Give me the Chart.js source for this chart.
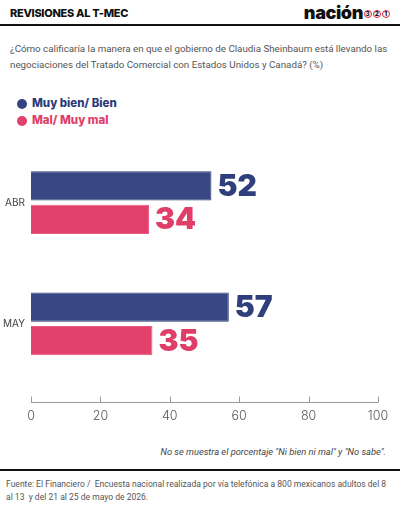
<!DOCTYPE html>
<html>
<head>
<meta charset="utf-8">
<script src="https://cdn.jsdelivr.net/npm/chart.js@4"></script>
<style>
  html, body { margin: 0; padding: 0; background: #fff; }
  body { width: 400px; height: 509px; position: relative; overflow: hidden; font-family: Roboto, "Noto Sans", sans-serif; }
  .head-title { position: absolute; left: 10px; top: 6px; font-family: Inter, sans-serif; font-size: 11px; font-weight: 800; color: #111; letter-spacing: -0.3px; }
  .logo { position: absolute; right: 10px; top: 2px; font-family: Inter, sans-serif; font-size: 18px; font-weight: 900; color: #111; letter-spacing: -0.4px; display: flex; align-items: center; }
  .logo .c { display: inline-block; width: 6.5px; height: 6.5px; border: 1.4px solid #d8203a; border-radius: 50%; font-size: 6.5px; line-height: 6.5px; text-align: center; color: #111; font-weight: 800; margin-left: 0.5px; letter-spacing: 0; margin-top: 3px; }
  .rule { position: absolute; left: 0; width: 400px; height: 2px; background: #111; }
  .question { position: absolute; left: 10px; top: 41px; white-space: nowrap; font-size: 10.4px; line-height: 16px; color: #555; }
  .legend { position: absolute; left: 17px; top: 95px; font-family: Inter, sans-serif; font-size: 11.5px; font-weight: 800; }
  .legend div { height: 17px; line-height: 15px; display: flex; align-items: center; }
  .legend span.dot { display: inline-block; width: 10px; height: 10px; border-radius: 50%; margin-right: 5px; }
  .note { position: absolute; right: 14px; top: 446px; white-space: nowrap; font-size: 9.6px; font-style: italic; color: #444; }
  .source { position: absolute; left: 6px; top: 478px; white-space: nowrap; font-size: 9px; line-height: 13px; color: #555; }
  #wrap { position: absolute; left: 0; top: 130px; width: 400px; height: 300px; }
</style>
</head>
<body>
<div class="head-title">REVISIONES AL T-MEC</div>
<div class="logo">nación<span class="c">3</span><span class="c">2</span><span class="c">1</span></div>
<div class="rule" style="top:24px"></div>
<div class="question" data-fit="377">¿Cómo calificaría la manera en que el gobierno de Claudia Sheinbaum está llevando las<br>negociaciones del Tratado Comercial con Estados Unidos y Canadá? (%)</div>
<div class="legend">
  <div style="color:#2c3b7a"><span class="dot" style="background:#34447f"></span>Muy bien/ Bien</div>
  <div style="color:#e03e68"><span class="dot" style="background:#e2416b"></span>Mal/ Muy mal</div>
</div>
<div id="wrap"><canvas id="chart"></canvas></div>
<div class="note" data-fit="226">No se muestra el porcentaje "Ni bien ni mal" y "No sabe".</div>
<div class="rule" style="top:469px"></div>
<div class="source" data-fit="380">Fuente: El Financiero /&nbsp; Encuesta nacional realizada por vía telefónica a 800 mexicanos adultos del 8<br>al 13&nbsp; y del 21 al 25 de mayo de 2026.</div>

<script>
const months = ['ABR', 'MAY'];
const goodValues = [52, 57];
const badValues = [34, 35];
const xTicks = [0, 20, 40, 60, 80, 100];

const blue = '#374885';
const pink = '#e2416b';

// shrink text blocks to the width they have in the original
document.querySelectorAll('[data-fit]').forEach(el => {
    const target = parseFloat(el.dataset.fit);
    const size = parseFloat(getComputedStyle(el).fontSize);
    el.style.fontSize = (size * target / el.scrollWidth).toFixed(2) + 'px';
});

// value labels next to each bar
const valueLabels = {
    id: 'valueLabels',
    afterDatasetsDraw(chart) {
        const ctx = chart.ctx;
        ctx.save();
        ctx.font = '900 30px Inter, "DejaVu Sans", sans-serif';
        ctx.textBaseline = 'middle';
        ctx.textAlign = 'left';
        chart.data.datasets.forEach((ds, i) => {
            chart.getDatasetMeta(i).data.forEach((bar, j) => {
                ctx.fillStyle = ds.labelColor;
                ctx.fillText(ds.data[j], bar.x + 6, bar.y + 1);
            });
        });
        ctx.restore();
    }
};

// baseline with upward ticks, sitting below the bars
const axisBaseline = {
    id: 'axisBaseline',
    afterDraw(chart) {
        const x = chart.scales.x;
        const ctx = chart.ctx;
        const yLine = Math.round(chart.chartArea.bottom + 17.5) + 0.5;
        ctx.save();
        ctx.strokeStyle = '#999';
        ctx.lineWidth = 1;
        ctx.beginPath();
        ctx.moveTo(x.left, yLine);
        ctx.lineTo(x.right, yLine);
        xTicks.forEach(v => {
            const px = Math.round(x.getPixelForValue(v)) + 0.5;
            ctx.moveTo(px, yLine);
            ctx.lineTo(px, yLine - 6);
        });
        ctx.stroke();
        ctx.restore();
    }
};

const ctx = document.getElementById('chart').getContext('2d');
new Chart(ctx, {
    type: 'bar',
    data: {
        labels: months,
        datasets: [{
            label: 'Muy bien/ Bien',
            data: goodValues,
            backgroundColor: blue,
            borderColor: '#2d3c78',
            borderWidth: 1,
            labelColor: '#2f3f7c',
            barPercentage: 0.88,
            categoryPercentage: 0.55
        }, {
            label: 'Mal/ Muy mal',
            data: badValues,
            backgroundColor: pink,
            borderColor: '#ea5a80',
            borderWidth: 1,
            labelColor: '#e03e68',
            barPercentage: 0.88,
            categoryPercentage: 0.55
        }]
    },
    options: {
        indexAxis: 'y',
        responsive: true,
        maintainAspectRatio: false,
        animation: false,
        layout: { padding: { top: 4.5, right: 22, left: 0, bottom: 0 } },
        plugins: {
            legend: { display: false },
            tooltip: { enabled: false }
        },
        scales: {
            x: {
                min: 0,
                max: 100,
                afterBuildTicks: scale => { scale.ticks = xTicks.map(v => ({ value: v })); },
                afterFit: scale => {
                    scale.height = 45.5;
                    scale.paddingLeft = 0;
                    scale.paddingRight = 0;
                },
                grid: { display: false, drawTicks: false },
                border: { display: false },
                ticks: {
                    color: '#555',
                    padding: 24,
                    font: { family: 'Inter', size: 12.5, weight: 300 }
                }
            },
            y: {
                afterFit: scale => { scale.width = 31; },
                grid: { display: false, drawTicks: false },
                border: { display: false },
                ticks: {
                    color: '#444',
                    padding: 6,
                    font: { family: 'Inter', size: 10, weight: 400 }
                }
            }
        }
    },
    plugins: [valueLabels, axisBaseline]
});
</script>
</body>
</html>
